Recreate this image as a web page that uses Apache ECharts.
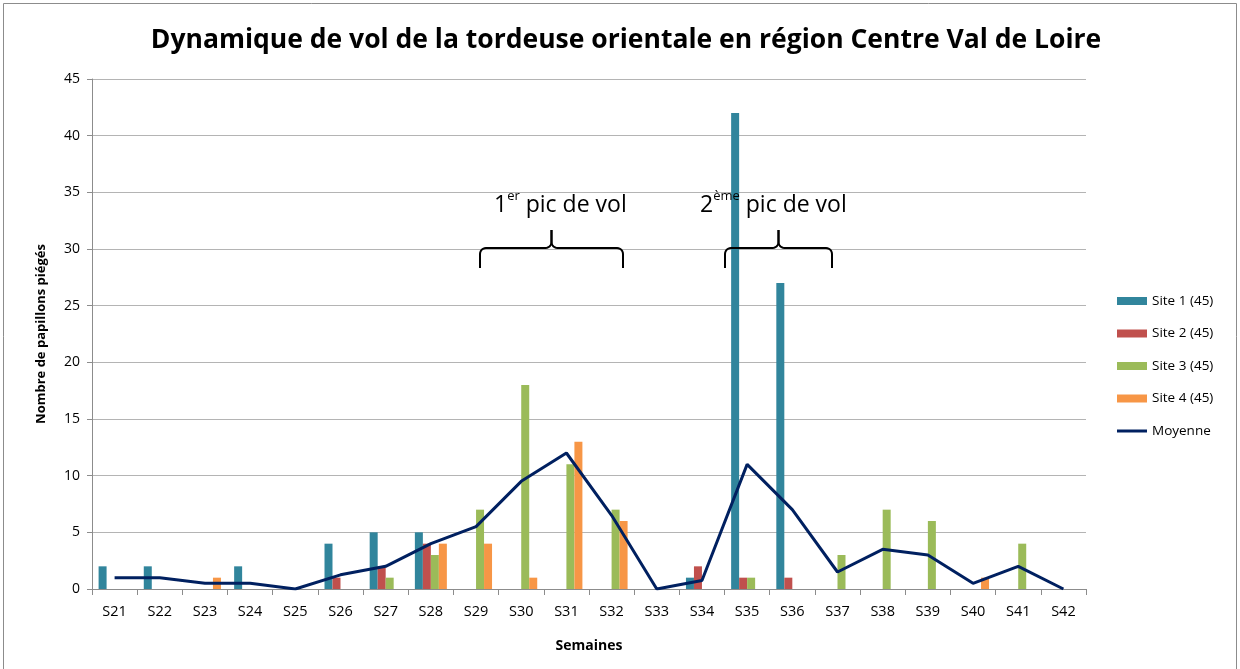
<!DOCTYPE html>
<html>
<head>
<meta charset="utf-8">
<script src="https://cdn.jsdelivr.net/npm/echarts@6/dist/echarts.min.js"></script>
<style>
  body { margin: 0; background: #fff; }
  #chart { width: 1240px; height: 669px; }
</style>
</head>
<body>
<div id="chart"></div>
<script>
// semaines
const semaines = ['S21', 'S22', 'S23', 'S24', 'S25', 'S26', 'S27', 'S28', 'S29', 'S30', 'S31',
  'S32', 'S33', 'S34', 'S35', 'S36', 'S37', 'S38', 'S39', 'S40', 'S41', 'S42']
const site1 = [2, 2, 0, 2, 0, 4, 5, 5, 0, 0, 0, 0, 0, 1, 42, 27, 0, 0, 0, 0, 0, 0]
const site2 = [0, 0, 0, 0, 0, 1, 2, 4, 0, 0, 0, 0, 0, 2, 1, 1, 0, 0, 0, 0, 0, 0]
const site3 = [0, 0, 0, 0, 0, 0, 1, 3, 7, 18, 11, 7, 0, 0, 1, 0, 3, 7, 6, 0, 4, 0]
const site4 = [0, 0, 1, 0, 0, 0, 0, 4, 4, 1, 13, 6, 0, 0, 0, 0, 0, 0, 0, 1, 0, 0]
const moyenne = [1, 1, 0.5, 0.5, 0, 1.25, 2, 4, 5.5, 9.5, 12, 6.5, 0, 0.75, 11, 7, 1.5, 3.5, 3, 0.5, 2, 0]
const yTicks = { min: 0, max: 45, interval: 5 }

const font = 'Open Sans'
const chart = echarts.init(document.getElementById('chart'))

function barSerie(name, data, color) {
  return {
    name: name,
    type: 'bar',
    barWidth: 8,
    barGap: '0%',
    itemStyle: { color: color },
    data: data
  }
}

// quart de cercle approximé
function arc(cx, cy, r, a0, a1) {
  const pts = []
  for (let i = 0; i <= 6; i++) {
    const a = a0 + (a1 - a0) * i / 6
    pts.push([cx + r * Math.cos(a), cy + r * Math.sin(a)])
  }
  return pts
}

// accolade horizontale
function brace(x1, x2, yTop, yBottom, ySpike) {
  const xm = (x1 + x2) / 2
  const r = 6
  const P = Math.PI
  const left = [[x1, yBottom]]
    .concat(arc(x1 + r, yTop + r, r, P, 1.5 * P))
    .concat(arc(xm - r, yTop - r, r, 0.5 * P, 0))
    .concat([[xm, ySpike]])
  const right = [[x2, yBottom]]
    .concat(arc(x2 - r, yTop + r, r, 0, -0.5 * P))
    .concat(arc(xm + r, yTop - r, r, 0.5 * P, P))
    .concat([[xm, ySpike]])
  const style = { fill: null, stroke: '#000', lineWidth: 2 }
  return [
    { type: 'polyline', z: 100, shape: { points: left }, style: style, silent: true },
    { type: 'polyline', z: 100, shape: { points: right }, style: style, silent: true }
  ]
}

function picLabel(x, y, num, sup) {
  return {
    type: 'text',
    z: 100,
    x: x,
    y: y,
    style: {
      text: '{n|' + num + '}{s|' + sup + '}{n| pic de vol}',
      rich: {
        n: { fontFamily: font, fontSize: 23, fill: '#000', verticalAlign: 'bottom' },
        s: { fontFamily: font, fontSize: 13, fill: '#000', verticalAlign: 'top', padding: [0, 0, 14, 0] }
      }
    },
    silent: true
  }
}

chart.setOption({
  animation: false,
  title: {
    text: 'Dynamique de vol de la tordeuse orientale en région Centre Val de Loire',
    left: 621,
    textAlign: 'center',
    top: 22,
    textStyle: { fontFamily: font, fontSize: 26.5, fontWeight: 'bold', color: '#000' }
  },
  legend: {
    orient: 'vertical',
    left: 1112,
    top: 289,
    itemWidth: 30,
    itemHeight: 8,
    itemGap: 18.5,
    textStyle: { fontFamily: font, fontSize: 13.5, color: '#000' },
    data: [
      { name: 'Site 1 (45)', icon: 'rect' },
      { name: 'Site 2 (45)', icon: 'rect' },
      { name: 'Site 3 (45)', icon: 'rect' },
      { name: 'Site 4 (45)', icon: 'rect' },
      { name: 'Moyenne', icon: 'path://M0,0 L30,0 L30,3 L0,3 Z' }
    ]
  },
  grid: { left: 92, right: 154, top: 79, bottom: 80 },
  xAxis: {
    type: 'category',
    data: semaines,
    name: 'Semaines',
    nameLocation: 'middle',
    nameGap: 50,
    nameTextStyle: { fontFamily: font, fontSize: 14, fontWeight: 'bold', color: '#000' },
    axisLine: { lineStyle: { color: '#8c8c8c' } },
    axisTick: { show: true, length: 6, lineStyle: { color: '#8c8c8c' } },
    axisLabel: { fontFamily: font, fontSize: 14.5, color: '#000', margin: 15 }
  },
  yAxis: {
    type: 'value',
    min: yTicks.min,
    max: yTicks.max,
    interval: yTicks.interval,
    name: 'Nombre de papillons piégés',
    nameLocation: 'middle',
    nameGap: 44,
    nameTextStyle: { fontFamily: font, fontSize: 13, fontWeight: 'bold', color: '#000' },
    axisLine: { show: true, lineStyle: { color: '#8c8c8c' } },
    axisTick: { show: true, length: 5, lineStyle: { color: '#8c8c8c' } },
    axisLabel: { fontFamily: font, fontSize: 14, color: '#000', margin: 12 },
    splitLine: { lineStyle: { color: '#b4b4b4' } }
  },
  series: [
    barSerie('Site 1 (45)', site1, '#31859c'),
    barSerie('Site 2 (45)', site2, '#c0504d'),
    barSerie('Site 3 (45)', site3, '#9bbb59'),
    barSerie('Site 4 (45)', site4, '#f79646'),
    {
      name: 'Moyenne',
      type: 'line',
      showSymbol: false,
      symbol: 'none',
      lineStyle: { color: '#002060', width: 3 },
      itemStyle: { color: '#002060' },
      data: moyenne
    }
  ],
  graphic: [
    {
      type: 'rect',
      shape: { x: 3.5, y: 3.5, width: 1233, height: 700 },
      style: { fill: null, stroke: '#8c8c8c', lineWidth: 1 },
      silent: true
    },
    picLabel(494, 190, '1', 'er'),
    picLabel(700, 190, '2', 'ème')
  ].concat(brace(480, 623, 248, 268, 230)).concat(brace(725, 832, 248, 268, 230))
})
</script>
</body>
</html>
